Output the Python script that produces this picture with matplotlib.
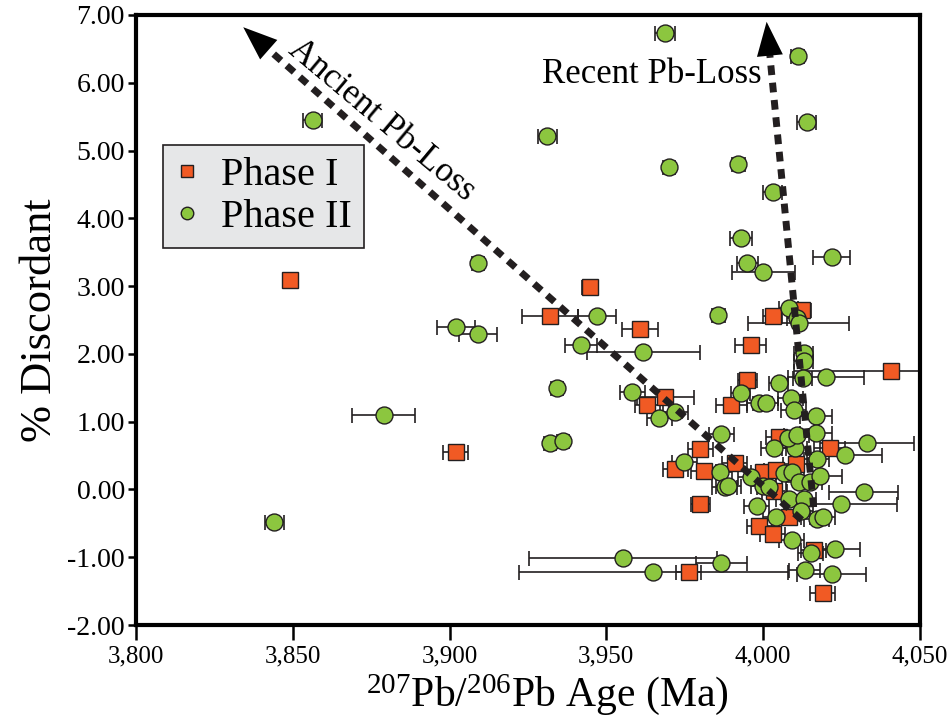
import numpy as np
import matplotlib
matplotlib.use("Agg")
import matplotlib.pyplot as plt
from matplotlib.lines import Line2D
from matplotlib.patches import Polygon
from matplotlib.transforms import IdentityTransform
from matplotlib.ticker import FuncFormatter, MultipleLocator

plt.rcParams['font.family'] = ['Liberation Serif', 'DejaVu Serif']
plt.rcParams['mathtext.fontset'] = 'custom'
plt.rcParams['mathtext.rm'] = 'Liberation Serif'
plt.rcParams['mathtext.it'] = 'Liberation Serif:italic'
plt.rcParams['axes.unicode_minus'] = False

# --- datos ---
# Phase I (cuadrados naranjas): edad 207Pb/206Pb (Ma), % discordancia, error (Ma)
phase1_age = [3849.2, 3944.8, 3932.0, 3960.8, 4003.0, 4012.3, 3996.0, 3995.0,
              4040.7, 3989.9, 3968.8, 3963.0, 3902.0, 3980.0, 4004.9, 3972.0,
              3981.0, 3990.9, 4000.1, 4004.2, 4010.4, 4003.6, 3980.0, 4008.1,
              3998.8, 4003.0, 4016.1, 3976.2, 4019.0, 4021.2]
phase1_disc = [3.09, 2.99, 2.56, 2.37, 2.56, 2.65, 2.13, 1.62,
               1.75, 1.25, 1.37, 1.25, 0.55, 0.60, 0.78, 0.30,
               0.27, 0.39, 0.26, 0.29, 0.38, -0.02, -0.21, -0.40,
               -0.54, -0.65, -0.89, -1.22, -1.53, 0.61]
phase1_err = [0.0, 2.5, 9.0, 5.8, 3.0, 3.0, 5.0, 3.0,
              31.0, 5.0, 9.0, 4.0, 4.0, 4.0, 4.0, 4.0,
              4.0, 4.0, 4.0, 4.0, 4.0, 4.0, 3.0, 4.0,
              4.0, 4.0, 4.0, 4.0, 4.0, 5.0]

# Phase II (círculos verdes)
phase2_age = [3968.8, 4011.0, 3856.3, 3931.1, 4013.9, 3970.0, 3992.1, 4003.0,
              3992.8, 3909.0, 3995.0, 4000.1, 4021.8, 3879.0, 3902.0, 3909.0,
              3947.1, 3941.9, 3961.8, 3934.3, 3932.0, 3936.2, 3958.2, 3966.9,
              3972.0, 3974.9, 3986.7, 3986.1, 3987.7, 3988.9, 3985.7, 4008.1,
              4010.7, 4011.3, 4012.9, 4012.9, 4012.6, 4020.0, 4004.9, 3992.8,
              3998.8, 4000.8, 4008.8, 4009.7, 4016.8, 4016.8, 4003.3, 4010.0,
              4007.8, 4010.7, 4033.1, 4026.0, 4017.1, 3996.0, 4006.8, 4009.1,
              4011.3, 4014.8, 4018.0, 4000.1, 4002.0, 3997.9, 4008.1, 4012.9,
              4024.7, 4032.1, 4012.0, 4004.0, 4017.1, 4019.0, 4009.1, 4015.2,
              4022.8, 3955.4, 3986.7, 3965.0, 4013.2, 4021.9, 3844.1]
phase2_disc = [6.73, 6.40, 5.45, 5.22, 5.42, 4.76, 4.80, 4.39,
               3.71, 3.34, 3.34, 3.21, 3.43, 1.10, 2.40, 2.29,
               2.56, 2.13, 2.03, 1.50, 0.69, 0.72, 1.44, 1.06,
               1.14, 0.41, 0.82, 0.26, 0.04, 0.05, 2.58, 2.68,
               2.53, 2.46, 2.01, 1.90, 1.65, 1.66, 1.57, 1.42,
               1.28, 1.28, 1.35, 1.17, 1.09, 0.83, 0.61, 0.61,
               0.76, 0.81, 0.69, 0.51, 0.45, 0.19, 0.24, 0.26,
               0.11, 0.11, 0.20, 0.05, 0.04, -0.24, -0.14, -0.14,
               -0.21, -0.04, -0.32, -0.40, -0.43, -0.40, -0.74, -0.94,
               -0.88, -1.01, -1.09, -1.22, -1.19, -1.25, -0.48]
phase2_err = [3.2, 2.0, 3.0, 3.0, 3.0, 2.0, 2.0, 3.0,
              3.5, 2.0, 3.2, 10.0, 6.0, 10.0, 6.0, 6.0,
              6.0, 5.0, 18.0, 2.0, 2.0, 2.0, 4.0, 4.0,
              4.0, 4.0, 4.0, 4.0, 4.0, 4.0, 2.0, 3.0,
              3.0, 16.0, 3.0, 3.0, 3.0, 12.0, 3.0, 3.0,
              4.0, 4.0, 4.0, 4.0, 5.0, 5.0, 4.0, 4.0,
              4.0, 4.0, 15.0, 12.0, 4.0, 4.0, 4.0, 4.0,
              4.0, 4.0, 7.0, 4.0, 4.0, 4.0, 4.0, 4.0,
              18.0, 11.0, 4.0, 4.0, 4.0, 4.0, 4.0, 4.0,
              8.0, 30.0, 8.0, 43.0, 5.0, 11.0, 3.0]

# flechas de pérdida de Pb: (inicio, punta)
ancient_start, ancient_tip = (4012.3, -0.45), (3834.2, 6.82)
recent_start, recent_tip = (4016.1, -0.26), (4001.1, 6.90)

orange = '#f15a24'
green = '#8cc63f'
dark = '#231f20'

fig = plt.figure(figsize=(9.49, 7.21), dpi=100)
ax = fig.add_axes([0.1433, 0.1331, 0.8261, 0.8461])
ax.set_xlim(3800, 4050)
ax.set_ylim(-2, 7)

ax.errorbar(phase1_age, phase1_disc, xerr=phase1_err, fmt='none', ecolor=dark,
            elinewidth=1.2, capsize=5.4, capthick=1.2, zorder=2)
ax.errorbar(phase2_age, phase2_disc, xerr=phase2_err, fmt='none', ecolor=dark,
            elinewidth=1.2, capsize=5.4, capthick=1.2, zorder=2)
ax.plot(phase1_age, phase1_disc, 's', ms=11.5, mfc=orange, mec=dark, mew=1.0,
        zorder=3)
ax.plot(phase2_age, phase2_disc, 'o', ms=12.2, mfc=green, mec=dark, mew=1.0,
        zorder=4)


def pb_arrow(start, tip, head_len=34, head_w=26):
    # línea punteada hasta la base + punta triangular sólida (en píxeles)
    p0 = ax.transData.transform(start)
    p1 = ax.transData.transform(tip)
    d = (p1 - p0) / np.hypot(*(p1 - p0))
    n = np.array([-d[1], d[0]])
    base = p1 - d * head_len
    end = ax.transData.inverted().transform(base + d * 3)
    ax.plot([start[0], end[0]], [start[1], end[1]], color=dark, lw=5,
            linestyle=(0, (1.4, 1.1)), dash_capstyle='butt', zorder=6)
    head = Polygon([p1, base + n * head_w / 2, base - n * head_w / 2],
                   closed=True, transform=IdentityTransform(),
                   facecolor='black', edgecolor='none', zorder=7)
    ax.add_artist(head)


pb_arrow(ancient_start, ancient_tip)
pb_arrow(recent_start, recent_tip)

ax.text(3878.3, 5.45, 'Ancient Pb-Loss', rotation=-40, rotation_mode='anchor',
        ha='center', va='center', fontsize=25, zorder=8)
ax.text(3964.5, 6.12, 'Recent Pb-Loss', ha='center', va='center', fontsize=25,
        zorder=8)

ax.xaxis.set_major_locator(MultipleLocator(50))
ax.yaxis.set_major_locator(MultipleLocator(1))
ax.xaxis.set_major_formatter(FuncFormatter(lambda v, p: f'{v:,.0f}'))
ax.yaxis.set_major_formatter(FuncFormatter(lambda v, p: f'{v:.2f}'))
ax.tick_params(axis='both', direction='out', width=1.8)
ax.tick_params(axis='y', length=6, pad=2, labelsize=20)
ax.tick_params(axis='x', length=11, pad=4, labelsize=18)
for s in ax.spines.values():
    s.set_linewidth(3)

ax.set_xlabel('$^{207}$Pb/$^{206}$Pb Age (Ma)', fontsize=30)
ax.xaxis.set_label_coords(0.5255, -0.077, transform=ax.transAxes)
ax.xaxis.label.set_va('top')
ax.set_ylabel('% Discordant', fontsize=32, labelpad=5)

handles = [Line2D([], [], ls='none', marker='s', ms=8.5, mfc=orange, mec=dark, mew=1.0),
           Line2D([], [], ls='none', marker='o', ms=9, mfc=green, mec=dark, mew=1.0)]
leg = ax.legend(handles, ['Phase I', 'Phase II'], loc='upper left',
                bbox_to_anchor=(0.0344, 0.787), borderaxespad=0, fontsize=29,
                frameon=True, fancybox=False, framealpha=1, facecolor='#e6e7e8',
                edgecolor=dark, handlelength=0.6, handletextpad=0.55,
                borderpad=0.3, labelspacing=0.12)
leg.get_frame().set_linewidth(1.2)
leg.set_zorder(9)

fig.savefig('out.png', dpi=100)
